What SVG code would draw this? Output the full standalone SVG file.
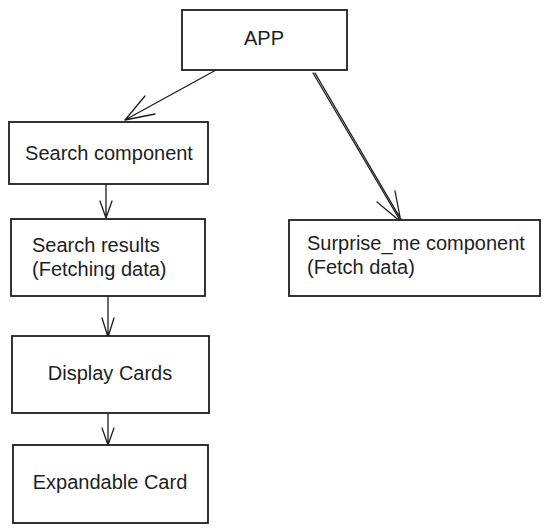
<svg xmlns="http://www.w3.org/2000/svg" width="549" height="532" viewBox="0 0 549 532">
<style>
.box{fill:#ffffff;stroke:#1e1e1e;stroke-width:1.8}
.t{font-family:"Liberation Sans",Arial,sans-serif;font-size:20px;fill:#1e1e1e}
.c{text-anchor:middle}
.edge{fill:none;stroke:#1e1e1e;stroke-width:1.3;stroke-linecap:round}
</style>
<rect width="549" height="532" fill="#ffffff"/>
<g id="connectors">
<path class="edge" d="M216 70 L125 120 M125 120 L145 96 M125 120 L155 114"/>
<path class="edge" d="M313 73 L401 222 M315 73 L402 221 M401 222 L377 202 M401 222 L395 191"/>
<path class="edge" d="M106 184 L106 218 M106 218 L100 201 M106 218 L112 201"/>
<path class="edge" d="M108 297 L108 337 M108 337 L102 318 M108 337 L114 318"/>
<path class="edge" d="M108 413 L108 445 M108 445 L102 428 M108 445 L114 428"/>
</g>
<g id="app">
<rect class="box" x="182" y="10" width="165" height="60"/>
<text class="t c" x="264" y="45">APP</text>
</g>
<g id="search-component">
<rect class="box" x="9" y="122" width="199" height="62"/>
<text class="t c" x="109" y="160">Search component</text>
</g>
<g id="search-results">
<rect class="box" x="11" y="219" width="194" height="77"/>
<text class="t" x="32" y="252">Search results</text>
<text class="t" x="32" y="276">(Fetching data)</text>
</g>
<g id="surprise-me">
<rect class="box" x="289" y="220" width="251" height="76"/>
<text class="t" x="307" y="250">Surprise_me component</text>
<text class="t" x="307" y="274">(Fetch data)</text>
</g>
<g id="display-cards">
<rect class="box" x="12" y="336" width="197" height="77"/>
<text class="t c" x="110" y="380">Display Cards</text>
</g>
<g id="expandable-card">
<rect class="box" x="13" y="445" width="195" height="78"/>
<text class="t c" x="110" y="489">Expandable Card</text>
</g>
</svg>
